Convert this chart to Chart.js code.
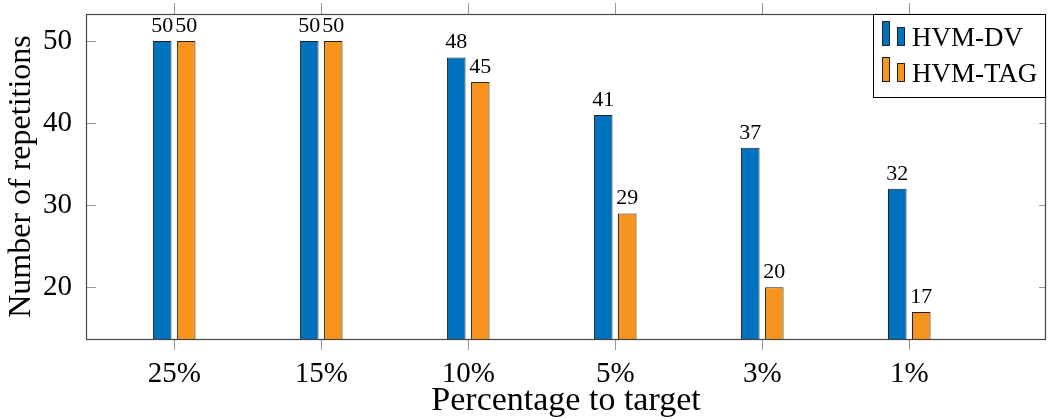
<!DOCTYPE html>
<html>
<head>
<meta charset="utf-8">
<script src="https://cdn.jsdelivr.net/npm/chart.js@4"></script>
<style>
  html, body { margin: 0; padding: 0; background: #fff; }
  #wrap { width: 1048px; height: 420px; }
</style>
</head>
<body>
<div id="wrap"><canvas id="myChart"></canvas></div>
<script>
'use strict';

const categories = ['25%', '15%', '10%', '5%', '3%', '1%'];
const dvValues = [50, 50, 48, 41, 37, 32];
const tagValues = [50, 50, 45, 29, 20, 17];
const yTickValues = [20, 30, 40, 50];

const FONT = "'Liberation Serif', 'Times New Roman', serif";
const BLUE = '#0072bd';
const ORANGE = '#f7941e';

// value labels above each bar
const barLabels = {
  id: 'barLabels',
  afterDatasetsDraw(chart) {
    const c = chart.ctx;
    c.save();
    c.font = '22px ' + FONT;
    c.fillStyle = '#000';
    c.textAlign = 'center';
    c.textBaseline = 'alphabetic';
    chart.data.datasets.forEach((ds, i) => {
      chart.getDatasetMeta(i).data.forEach((bar, j) => {
        c.fillText(String(ds.data[j].y), bar.x, bar.y - 9);
      });
    });
    c.restore();
  }
};

// pgfplots style box + tick marks
const frame = {
  id: 'frame',
  afterDraw(chart) {
    const c = chart.ctx;
    const a = chart.chartArea;
    const xs = chart.scales.x;
    const ys = chart.scales.y;
    c.save();
    c.lineWidth = 1;
    c.strokeStyle = '#999';
    c.beginPath();
    xs.ticks.forEach(t => {
      const px = Math.round(xs.getPixelForValue(t.value)) + 0.5;
      c.moveTo(px, a.top); c.lineTo(px, a.top - 11);
      c.moveTo(px, a.bottom); c.lineTo(px, a.bottom + 11);
    });
    ys.ticks.forEach(t => {
      const py = Math.round(ys.getPixelForValue(t.value)) + 0.5;
      c.moveTo(a.left, py); c.lineTo(a.left + 10, py);
      c.moveTo(a.right, py); c.lineTo(a.right - 7, py);
    });
    c.stroke();
    c.strokeStyle = '#444';
    c.lineWidth = 1.2;
    c.strokeRect(Math.round(a.left) + 0.5, Math.round(a.top) + 0.5,
      Math.round(a.right - a.left) - 1, Math.round(a.bottom - a.top));
    c.restore();
  }
};

// legend box in the top right corner
const cornerLegend = {
  id: 'cornerLegend',
  afterDraw(chart) {
    const c = chart.ctx;
    const a = chart.chartArea;
    const x0 = a.right - 173;
    const y0 = a.top;
    c.save();
    c.fillStyle = '#fff';
    c.fillRect(x0, y0, 172, 83);
    c.strokeStyle = '#000';
    c.lineWidth = 1;
    c.strokeRect(x0 + 0.5, y0 + 0.5, 172, 83);
    c.font = '27px ' + FONT;
    c.textBaseline = 'alphabetic';
    chart.data.datasets.forEach((ds, i) => {
      const base = y0 + 32 + i * 36;
      c.fillStyle = ds.backgroundColor;
      c.strokeStyle = '#222';
      c.fillRect(x0 + 9, base - 25, 8, 25);
      c.strokeRect(x0 + 9.5, base - 24.5, 7, 24);
      c.fillRect(x0 + 24, base - 19, 8, 19);
      c.strokeRect(x0 + 24.5, base - 18.5, 7, 18);
      c.fillStyle = '#000';
      c.fillText(ds.label, x0 + 39, base);
    });
    c.restore();
  }
};

const ctx = document.getElementById('myChart');

let chartObj = {
  type: 'bar',
  data: {
    datasets: [{
      label: 'HVM-DV',
      data: dvValues.map((v, i) => ({ x: i, y: v })),
      backgroundColor: BLUE,
      borderColor: '#222',
      borderWidth: 1
    },
    {
      label: 'HVM-TAG',
      data: tagValues.map((v, i) => ({ x: i, y: v })),
      backgroundColor: ORANGE,
      borderColor: '#222',
      borderWidth: 1
    }]
  },
  options: {
    responsive: true,
    maintainAspectRatio: false,
    animation: false,
    categoryPercentage: 0.3265,
    barPercentage: 0.775,
    layout: { padding: { top: 14, right: 2, left: 0, bottom: 0 } },
    plugins: {
      legend: { display: false },
      tooltip: { enabled: false }
    },
    scales: {
      x: {
        type: 'linear',
        offset: false,
        min: -0.6,
        max: 5.93,
        afterBuildTicks: s => { s.ticks = categories.map((c, i) => ({ value: i })); },
        afterFit: s => { s.height = 81; s.paddingLeft = 0; s.paddingRight = 0; },
        grid: { display: false, drawTicks: false, offset: false },
        border: { display: false },
        ticks: {
          callback: v => categories[v] ?? '',
          font: { family: FONT, size: 29 },
          color: '#000',
          padding: 18,
          maxRotation: 0,
          autoSkip: false
        },
        title: {
          display: true,
          text: 'Percentage to target',
          font: { family: FONT, size: 34, lineHeight: 1 },
          color: '#000',
          padding: { top: 0, bottom: 2 }
        }
      },
      y: {
        min: 13.7,
        max: 53.3,
        afterBuildTicks: s => { s.ticks = yTickValues.map(v => ({ value: v })); },
        afterFit: s => { s.width = 86; s.paddingTop = 0; s.paddingBottom = 0; },
        grid: { display: false, drawTicks: false },
        border: { display: false },
        ticks: {
          font: { family: FONT, size: 29 },
          color: '#000',
          padding: 14
        },
        title: {
          display: true,
          text: 'Number of repetitions',
          font: { family: FONT, size: 32, lineHeight: 1 },
          color: '#000',
          padding: { top: 6, bottom: 0 }
        }
      }
    }
  },
  plugins: [barLabels, frame, cornerLegend]
};

new Chart(ctx, chartObj);
</script>
</body>
</html>
